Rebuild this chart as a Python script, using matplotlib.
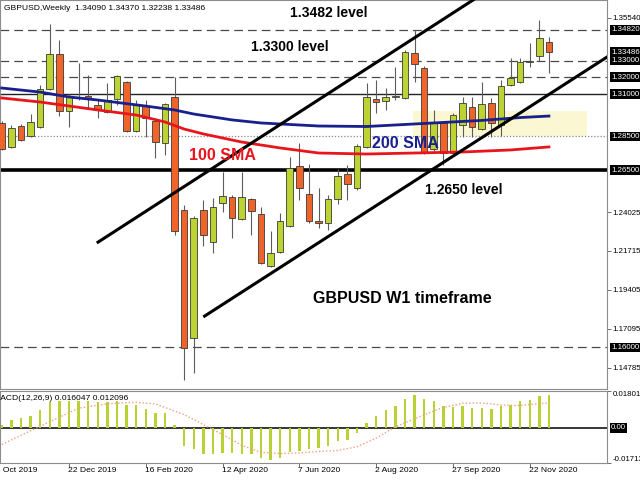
import matplotlib
matplotlib.use('Agg')
import matplotlib.pyplot as plt
import matplotlib.transforms as mtransforms
import numpy as np

plt.rcParams['font.family'] = ['Liberation Sans', 'DejaVu Sans']

# weekly candles, 3 Nov 2019 .. 6 Dec 2020
opens = [1.2930, 1.2788, 1.2912, 1.2853, 1.2906, 1.3131, 1.3339, 1.3001, 1.3085, 1.3090,
         1.3037, 1.2995, 1.3072, 1.3173, 1.2882, 1.3030, 1.2942, 1.2811, 1.3084, 1.2414,
         1.1656, 1.2414, 1.2225, 1.2456, 1.2491, 1.2361, 1.2480, 1.2391, 1.2083, 1.2166,
         1.2320, 1.2675, 1.2509, 1.2347, 1.2337, 1.2480, 1.2630, 1.2545, 1.2788, 1.3072,
         1.3060, 1.3084, 1.3078, 1.3344, 1.3256, 1.2776, 1.2930, 1.2752, 1.2918, 1.3024,
         1.2894, 1.3048, 1.2918, 1.3155, 1.3173, 1.3291, 1.3327, 1.34090]
highs = [1.2942, 1.2918, 1.2924, 1.2983, 1.3155, 1.3516, 1.3421, 1.3102, 1.3285, 1.3213,
         1.3066, 1.3167, 1.3214, 1.3180, 1.3066, 1.3066, 1.2959, 1.3048, 1.3202, 1.2444,
         1.2379, 1.2474, 1.2485, 1.2639, 1.2503, 1.2639, 1.2485, 1.2432, 1.2290, 1.2397,
         1.2728, 1.2811, 1.2687, 1.2545, 1.2503, 1.2660, 1.2681, 1.2805, 1.3167, 1.3184,
         1.3137, 1.3261, 1.3362, 1.3481, 1.3268, 1.3007, 1.2942, 1.2989, 1.3084, 1.3084,
         1.3173, 1.3078, 1.3184, 1.3315, 1.3315, 1.3404, 1.3540, 1.34370]
lows = [1.2770, 1.2782, 1.2823, 1.2847, 1.2900, 1.3125, 1.2971, 1.2906, 1.3066, 1.3019,
        1.2959, 1.2990, 1.3036, 1.2876, 1.2876, 1.2847, 1.2722, 1.2740, 1.2266, 1.1407,
        1.1449, 1.2201, 1.2160, 1.2403, 1.2249, 1.2355, 1.2266, 1.2094, 1.2077, 1.2160,
        1.2314, 1.2474, 1.2337, 1.2308, 1.2296, 1.2450, 1.2474, 1.2533, 1.2782, 1.2989,
        1.3007, 1.3066, 1.3072, 1.3173, 1.2746, 1.2764, 1.2681, 1.2746, 1.2847, 1.2847,
        1.2888, 1.2847, 1.2853, 1.3149, 1.3167, 1.3261, 1.3297, 1.32238]
closes = [1.2776, 1.2900, 1.2829, 1.2936, 1.3131, 1.3339, 1.3001, 1.3084, 1.3080, 1.3075,
          1.3007, 1.3066, 1.3208, 1.2882, 1.3042, 1.2959, 1.2817, 1.3042, 1.2290, 1.1597,
          1.2367, 1.2266, 1.2432, 1.2497, 1.2367, 1.2491, 1.2408, 1.2100, 1.2160, 1.2349,
          1.2663, 1.2545, 1.2349, 1.2337, 1.2480, 1.2617, 1.2566, 1.2793, 1.3084, 1.3054,
          1.3084, 1.3086, 1.3350, 1.3279, 1.2758, 1.2930, 1.2752, 1.2977, 1.3048, 1.2906,
          1.3042, 1.2930, 1.3149, 1.3196, 1.3291, 1.3300, 1.3433, 1.33486]

date_idx = [-1, 7, 15, 23, 31, 39, 47, 55]
date_lbl = ['27 Oct 2019', '22 Dec 2019', '16 Feb 2020', '12 Apr 2020',
            '7 Jun 2020', '2 Aug 2020', '27 Sep 2020', '22 Nov 2020']

sma100_idx = [0, 4, 10, 14, 17, 19, 21, 25, 29, 33, 38, 43, 48, 53, 57]
sma100 = [1.3078, 1.3054, 1.3007, 1.2977, 1.2936, 1.2894, 1.2865, 1.2817, 1.2782,
          1.2752, 1.2746, 1.2752, 1.2758, 1.2770, 1.2788]
sma200_idx = [0, 4, 7, 10, 15, 18, 20, 24, 27, 33, 38, 42, 46, 50, 54, 57]
sma200 = [1.3137, 1.3113, 1.3084, 1.3066, 1.3030, 1.3007, 1.2983, 1.2948, 1.2930,
          1.2912, 1.2909, 1.2921, 1.2933, 1.2945, 1.2962, 1.2971]

dashed_levels = [1.3482, 1.3300, 1.3200, 1.1600]
solid_level = 1.3100
dotted_level = 1.2850
thick_level = 1.2650
zone_idx = [42.8, 61.0]
zone_px = [1.2850, 1.3000]

upper_x, upper_y = [9.9, 52.0], [1.2219, 1.3765]
lower_x, lower_y = [21.0, 63.2], [1.1781, 1.3326]

axis_ticks = [1.35540, 1.24025, 1.21715, 1.19405, 1.17095, 1.14785]
boxed = [1.34820, 1.33486, 1.33000, 1.32000, 1.31000, 1.28500, 1.26500, 1.16000]

macd_hist = [0.0016, 0.0037, 0.0046, 0.0060, 0.0089, 0.0125, 0.0130, 0.0133, 0.0130, 0.0130,
             0.0125, 0.0125, 0.0133, 0.0114, 0.0114, 0.0094, 0.0073, 0.0073, 0.0016, -0.0089,
             -0.0101, -0.0125, -0.0125, -0.0122, -0.0122, -0.0125, -0.0125, -0.0146, -0.0155, -0.0146,
             -0.0119, -0.0114, -0.0102, -0.0098, -0.0089, -0.0065, -0.0057, -0.0024, 0.0024, 0.0057,
             0.0085, 0.0106, 0.0143, 0.0163, 0.0142, 0.0129, 0.0106, 0.0102, 0.0106, 0.0096,
             0.0099, 0.0093, 0.0106, 0.0114, 0.0129, 0.0138, 0.0155, 0.0160]
sig_idx = [0, 4, 8, 11, 14, 16, 19, 21, 23, 25, 27, 29, 31, 33, 35, 37, 39, 41, 44, 46,
           48, 50, 52, 54, 56, 57]
sig_val = [-0.0081, 0.0008, 0.0096, 0.0118, 0.0125, 0.0117, 0.0065, 0.0016, -0.0032, -0.0085,
           -0.0119, -0.0125, -0.0122, -0.0115, -0.0110, -0.0092, -0.0050, 0.0005, 0.0064, 0.0100,
           0.0120, 0.0122, 0.0112, 0.0109, 0.0119, 0.0121]

green = '#bdd332'
orange = '#f0642a'
xlim = (-0.18, 63.05)
fs = 5.7

fig = plt.figure(figsize=(6.4, 4.8), dpi=100)
ax = fig.add_axes([0, 1 - 389/480, 607/640, 389/480])
ax2 = fig.add_axes([0, 1 - 463/480, 607/640, 72/480])

# --- price panel
idx = np.arange(len(opens))
o = np.array(opens)
c = np.array(closes)
up = c >= o
body_lo = np.minimum(o, c)
body_h = np.maximum(np.abs(c - o), 0.00035)
cols = [green if u else orange for u in up]

ax.fill_between(zone_idx, zone_px[0], zone_px[1], color='#faf7d2', zorder=1, lw=0)
for lv in dashed_levels:
    ax.axhline(lv, color='#4a4a4a', lw=0.9, ls=(0, (7, 4)), zorder=2)
ax.axhline(solid_level, color='#222222', lw=1.0, zorder=2)
ax.axhline(dotted_level, color='#888888', lw=0.9, ls=(0, (1, 1.5)), zorder=2)
ax.axhline(thick_level, color='black', lw=2.6, zorder=2)

ax.vlines(idx, lows, highs, color='#5c5c5c', lw=0.8, zorder=3)
ax.bar(idx, body_h, bottom=body_lo, width=0.68, color=cols, edgecolor='#3a3a3a',
       linewidth=0.6, zorder=4)

ax.plot(sma100_idx, sma100, color='#e8161c', lw=2.0, zorder=5)
ax.plot(sma200_idx, sma200, color='#17208c', lw=2.0, zorder=5)
ax.plot(upper_x, upper_y, color='black', lw=2.2, zorder=6, solid_capstyle='butt')
ax.plot(lower_x, lower_y, color='black', lw=2.2, zorder=6, solid_capstyle='butt')

bold = dict(fontweight='bold', va='center', ha='left', zorder=7)
ax.text(30.0, 1.3581, '1.3482 level', fontsize=10, color='black', **bold)
ax.text(26.0, 1.3380, '1.3300 level', fontsize=10, color='black', **bold)
ax.text(19.5, 1.2740, '100 SMA', fontsize=11.5, color='#e8161c', **bold)
ax.text(38.6, 1.2811, '200 SMA', fontsize=11.5, color='#17208c', **bold)
ax.text(44.1, 1.2533, '1.2650 level', fontsize=10, color='black', **bold)
ax.text(32.4, 1.1893, 'GBPUSD W1 timeframe', fontsize=11.5, color='black', **bold)

ax.text(0.006, 0.979, 'GBPUSD,Weekly  1.34090 1.34370 1.32238 1.33486',
        transform=ax.transAxes, fontsize=6.1, va='center', ha='left')

ax.set_xlim(*xlim)
ax.set_ylim(1.13540, 1.36584)
ax.set_xticks([])
ax.yaxis.tick_right()
ax.set_yticks(axis_ticks)
ax.set_yticklabels([f'{v:.5f}' for v in axis_ticks])
ax.tick_params(axis='y', length=3, width=0.6, color='#555555', labelsize=fs, pad=1.2)

trans = mtransforms.blended_transform_factory(ax.transAxes, ax.transData)
for v in boxed:
    ax.text(1.0065, v, f'{v:.5f}', transform=trans, ha='left', va='center', fontsize=fs,
            color='white', clip_on=False,
            bbox=dict(boxstyle='square,pad=0.18', fc='black', ec='none'))

for sp in ax.spines.values():
    sp.set_color('#8c8c8c')
    sp.set_linewidth(0.8)

# --- MACD panel
ax2.bar(idx, macd_hist, width=0.25, color='#b8d236', zorder=3)
ax2.plot(sig_idx, sig_val, color='#f4a07c', lw=1.0, ls=(0, (1, 1.5)), zorder=4)
ax2.axhline(0, color='black', lw=1.1, zorder=2)
ax2.set_xlim(*xlim)
ax2.set_ylim(-0.01713, 0.01801)
ax2.yaxis.tick_right()
ax2.set_yticks([0.01801, -0.01713])
ax2.set_yticklabels(['0.01801', '-0.01713'])
ax2.tick_params(axis='y', length=3, width=0.6, color='#555555', labelsize=fs, pad=1.2)
lbls = ax2.get_yticklabels()
lbls[0].set_va('top')
lbls[1].set_va('bottom')
trans2 = mtransforms.blended_transform_factory(ax2.transAxes, ax2.transData)
ax2.text(1.0065, 0.0, '0.00', transform=trans2, ha='left', va='center', fontsize=fs,
         color='white', clip_on=False,
         bbox=dict(boxstyle='square,pad=0.18', fc='black', ec='none'))
ax2.text(-0.011, 0.89, 'MACD(12,26,9) 0.016047 0.012096', transform=ax2.transAxes,
         fontsize=6.1, va='center', ha='left')

ax2.set_xticks([d for d in date_idx if d > xlim[0]])
ax2.set_xticklabels([])
ax2.tick_params(axis='x', length=3, width=0.6, color='#555555')
transx = mtransforms.blended_transform_factory(ax2.transData, ax2.transAxes)
for d, lb in zip(date_idx, date_lbl):
    ax2.text(d - 0.1, -0.1, lb, transform=transx, ha='left', va='center', fontsize=6.1,
             clip_on=False)

for sp in ax2.spines.values():
    sp.set_color('#8c8c8c')
    sp.set_linewidth(0.8)

fig.savefig('out.png', dpi=100)
